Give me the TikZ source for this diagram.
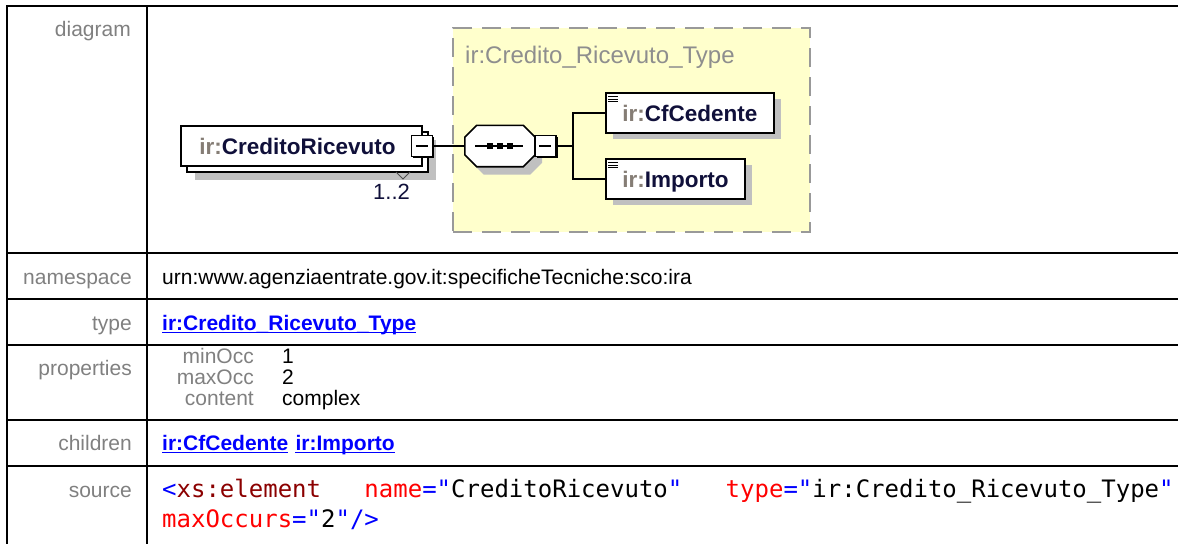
\documentclass[tikz,border=0pt]{standalone}
\usepackage{fontspec}
\setmainfont{Liberation Sans}
\setmonofont{DejaVu Sans Mono}
\usepackage{xcolor}
\usetikzlibrary{positioning,shadows}

\definecolor{lblgray}{HTML}{808080}
\definecolor{linkblue}{HTML}{0000FF}
\definecolor{cmpyellow}{HTML}{FFFFCC}
\definecolor{cmpborder}{HTML}{999999}
\definecolor{cmptext}{HTML}{8E8E8E}
\definecolor{shadowgray}{HTML}{C0C0C0}
\definecolor{prefixgray}{HTML}{857D75}
\definecolor{namenavy}{HTML}{10103A}
\definecolor{tagred}{HTML}{8B0000}
\definecolor{attrred}{HTML}{FF0000}

\newcommand{\txtfont}{\fontsize{21}{25}\selectfont}
\newcommand{\dgmfont}{\fontsize{22.5}{26}\selectfont}
\newcommand{\srcfont}{\fontsize{24}{30}\selectfont\ttfamily}
\newcommand{\qn}[1]{\textcolor{prefixgray}{ir:}\textcolor{namenavy}{#1}}
\newcommand{\cb}[1]{\textcolor{linkblue}{#1}}
\newcommand{\ctag}[1]{\textcolor{tagred}{#1}}
\newcommand{\cattr}[1]{\textcolor{attrred}{#1}}
\newcommand{\linkline}[1]{\draw[linkblue, line width=1.4pt] ([yshift=-2.6pt]#1.base west) -- ([yshift=-2.6pt]#1.base east);}
% octagon outline of a sequence node
\newcommand{\chamfer}[1]{([xshift=12pt]#1.north west) -- ([xshift=-12pt]#1.north east) -- ([yshift=-12pt]#1.north east) -- ([yshift=12pt]#1.south east) -- ([xshift=-12pt]#1.south east) -- ([xshift=12pt]#1.south west) -- ([yshift=12pt]#1.south west) -- ([yshift=-12pt]#1.north west) -- cycle}

\tikzset{
  tabline/.style={line width=2pt},
  rowlabel/.style={anchor=base east, inner sep=0pt, text=lblgray, font=\txtfont},
  cell/.style={anchor=base west, inner sep=0pt, font=\txtfont},
  link/.style={cell, text=linkblue, font=\txtfont\bfseries},
  code/.style={anchor=base west, inner sep=0pt, font=\srcfont},
}
\tikzset{
  cmpbox/.style={
    draw=cmpborder,
    fill=cmpyellow,
    line width=1.8pt,
    dash pattern=on 19pt off 10pt,
    inner sep=0pt
  },
  elembox/.style={
    draw,
    fill=white,
    line width=1.6pt,
    minimum width=241pt,
    minimum height=40pt,
    inner sep=0pt,
    text height=16.5pt,
    text depth=0pt,
    font=\dgmfont\bfseries,
    general shadow={fill=shadowgray, shadow xshift=14pt, shadow yshift=-14pt},
    general shadow={draw, fill=white, line width=1.6pt, shadow xshift=6pt, shadow yshift=-6pt}
  },
  childbox/.style={
    draw,
    fill=white,
    line width=1.6pt,
    minimum height=40pt,
    inner xsep=16.5pt,
    inner ysep=0pt,
    text height=16.5pt,
    text depth=0pt,
    font=\dgmfont\bfseries,
    general shadow={fill=shadowgray, shadow xshift=7pt, shadow yshift=-6pt},
    path picture={
      \foreach \k in {0,1,2}
        \draw[line width=1pt] ([xshift=2.5pt, yshift={-3.5pt-2.7pt*\k}]path picture bounding box.north west) -- ++(10pt,0pt);
    }
  },
  seqbox/.style={
    minimum width=70pt,
    minimum height=41pt,
    inner sep=0pt
  },
  collapse/.style={
    draw,
    fill=white,
    line width=1.4pt,
    minimum size=21pt,
    inner sep=0pt,
    general shadow={fill=black, shadow xshift=1.6pt, shadow yshift=-1.6pt},
    path picture={
      \draw[line width=1.2pt] ([xshift=-6pt]path picture bounding box.center) -- ([xshift=6pt]path picture bounding box.center);
    }
  },
  conn/.style={line width=1.8pt}
}

\begin{document}
\begin{tikzpicture}[x=1pt, y=-1pt]
  \useasboundingbox (0,0) rectangle (1178,544);

  % table frame
  \foreach \yy in {6,253,299,345,420,466}
    \draw[tabline] (7,\yy) -- (1178,\yy);
  \draw[tabline] (7,5) -- (7,544);
  \draw[tabline] (147,5) -- (147,544);

  % row labels
  \node[rowlabel] (ldiagram) at (131,36) {diagram};
  \node[rowlabel] (lnamespace) at (132,284) {namespace};
  \node[rowlabel] (ltype) at (132,330) {type};
  \node[rowlabel] (lprops) at (132,375) {properties};
  \node[rowlabel] (lchildren) at (132,450) {children};
  \node[rowlabel] (lsource) at (132,497) {source};

  % diagram
  \node[cmpbox, minimum width=357pt, minimum height=204pt] (ctype) at (631.5,130) {};
  \node[anchor=base west, inner sep=0pt, text=cmptext, font=\fontsize{24}{28}\selectfont] (ctypelbl) at (465,63) {ir:Credito\_Ricevuto\_Type};

  \node[elembox] (elem) at (301.5,146) {\qn{CreditoRicevuto}\hspace*{8pt}};
  \node[collapse] (elemcol) at ([xshift=-1pt]elem.east) {};
  \draw[line width=1pt, black!70] (396,172) -- (403,179) -- (410,172);
  \node[anchor=base, inner sep=0pt, text=namenavy, font=\fontsize{22}{26}\selectfont] (occ) at (391.5,199) {1..2};

  \node[seqbox] (seq) at (500,146) {};
  \fill[shadowgray, transform canvas={shift={(7pt,-8pt)}}] \chamfer{seq};
  \draw[line width=1.6pt, fill=white] \chamfer{seq};
  \draw[line width=1.4pt] ([xshift=-25pt]seq.center) -- ([xshift=23pt]seq.center);
  \foreach \dx in {-10,0,10}
    \fill ([xshift=\dx pt]seq.center) +(-2.8pt,-2.8pt) rectangle +(2.8pt,2.8pt);
  \node[collapse, anchor=west] (seqcol) at ([xshift=-1pt]seq.east) {};
  \coordinate (fork) at (573,146);

  \node[childbox, anchor=west] (cf) at (605,113) {\qn{CfCedente}};
  \node[childbox, anchor=west] (imp) at (605,179) {\qn{Importo}};

  \draw[conn] (elemcol.east) -- (seq.west);
  \draw[conn] (seqcol.east) -- (fork);
  \draw[conn] (fork) |- (cf.west);
  \draw[conn] (fork) |- (imp.west);

  % namespace and type
  \node[cell] (nsval) at (162,284) {urn:www.agenziaentrate.gov.it:specificheTecniche:sco:ira};
  \node[link] (typeval) at (162,330) {ir:Credito\_Ricevuto\_Type};
  \linkline{typeval}

  % properties
  \node[rowlabel] (pmin) at (254,363) {minOcc};
  \node[rowlabel] (pmax) at (254,384) {maxOcc};
  \node[rowlabel] (pcont) at (254,405) {content};
  \node[cell] (vmin) at (282,363) {1};
  \node[cell] (vmax) at (282,384) {2};
  \node[cell] (vcont) at (282,405) {complex};

  % children
  \node[link] (chcf) at (162,450) {ir:CfCedente};
  \node[link, right=7pt of chcf.base east, anchor=base west] (chimp) {ir:Importo};
  \linkline{chcf}
  \linkline{chimp}

  % source
  \node[code] (src1) at (162,497) {\cb{<}\ctag{xs:element}~~~\cattr{name}\cb{="}CreditoRicevuto\cb{"}~~~\cattr{type}\cb{="}ir:Credito\_Ricevuto\_Type\cb{"}};
  \node[code] (src2) at (162,527) {\cattr{maxOccurs}\cb{="}2\cb{"/>}};
\end{tikzpicture}
\end{document}
